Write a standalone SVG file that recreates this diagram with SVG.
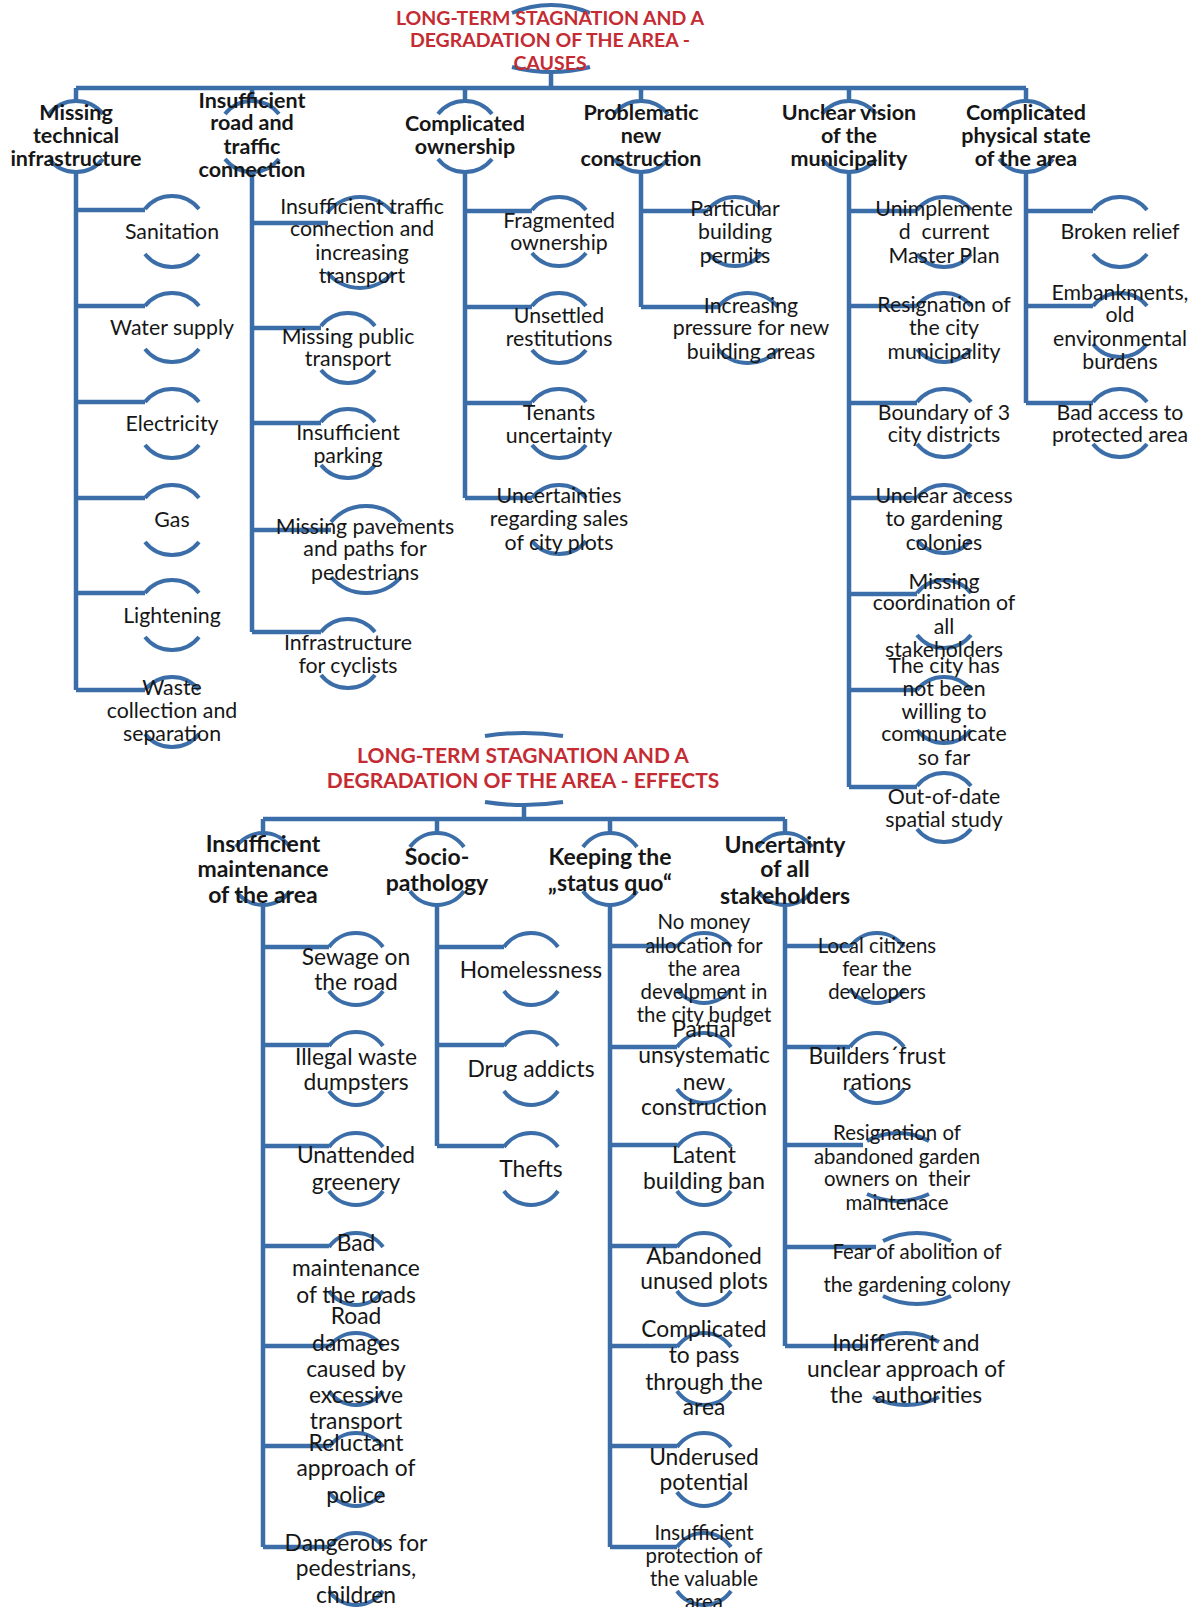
<svg xmlns="http://www.w3.org/2000/svg" width="1197" height="1607" viewBox="0 0 1197 1607">
<style>
.ln{stroke:#3b6ea8;stroke-width:4.5;fill:none}
.a{stroke:#3b6ea8;stroke-width:4;fill:none}
text{font-family:Lato,"Liberation Sans",sans-serif;fill:#161616;text-anchor:middle}
.ti{font-weight:bold;fill:#c42b32;font-size:19.5px}
.ti2{font-weight:bold;fill:#c42b32;font-size:21px}
.h{font-weight:bold;font-size:21.5px}
.eh{font-weight:bold;font-size:23px}
.c{font-size:21.3px}
.e{font-size:22.8px}
.s{font-size:20.4px}
.s19{font-size:20.4px}
</style>
<rect width="1197" height="1607" fill="#ffffff"/>

<g id="connectors">
<path class="ln" d="M551,72V88M76,88H1026M76,88V101M252,88V101M465,88V101M641,88V101M849,88V101M1026,88V101"/>
<path class="ln" d="M76,172V690M76,210H145M76,306H145M76,402H145M76,498H145M76,593H145M76,690H145"/>
<path class="ln" d="M252,172V632M252,223H328M252,328H321M252,423H321M252,530H331M252,632H321"/>
<path class="ln" d="M465,172V498M465,211H532M465,307H532M465,403H532M465,498H532"/>
<path class="ln" d="M641,172V307M641,211H708M641,307H720"/>
<path class="ln" d="M849,172V787M849,211H917M849,306H917M849,403H917M849,498H917M849,594H917M849,690H917M849,787H917"/>
<path class="ln" d="M1026,172V403M1026,211H1093M1026,306H1093M1026,403H1093"/>
<path class="ln" d="M524,805V819M263,819H785M263,819V833M437,819V833M610,819V833M785,819V833"/>
<path class="ln" d="M263,905V1547M263,947H329M263,1045H329M263,1146H329M263,1246H329M263,1346H329M263,1446H329M263,1547H329"/>
<path class="ln" d="M437,905V1146M437,947H504M437,1045H504M437,1146H504"/>
<path class="ln" d="M610,905V1547M610,946H677M610,1047H677M610,1145H677M610,1246H677M610,1346H677M610,1446H677M610,1547H677"/>
<path class="ln" d="M785,905V1346M785,946H850M785,1047H850M785,1145H863M785,1247H876M785,1346H868"/>
</g>

<g id="n-causes">
<path class="a" d="M512,13A99,99 0 0 1 590,13M512,67A154.6,154.6 0 0 0 590,67"/>
<text class="ti"><tspan x="550" y="25">LONG-TERM STAGNATION AND A</tspan><tspan x="550" y="47">DEGRADATION OF THE AREA -</tspan><tspan x="550" y="70">CAUSES</tspan></text>
</g>

<g id="n-missing-tech">
<path class="a" d="M49,114A34.5,34.5 0 0 1 103,114M49,159A34.5,34.5 0 0 0 103,159"/>
<text class="h"><tspan x="76" y="120">Missing</tspan><tspan x="76" y="143">technical</tspan><tspan x="76" y="166">infrastructure</tspan></text>
</g>
<g id="n-road-traffic">
<path class="a" d="M225,114A34.5,34.5 0 0 1 279,114M225,159A34.5,34.5 0 0 0 279,159"/>
<text class="h"><tspan x="252" y="108">Insufficient</tspan><tspan x="252" y="130">road and</tspan><tspan x="252" y="154">traffic</tspan><tspan x="252" y="177">connection</tspan></text>
</g>
<g id="n-ownership">
<path class="a" d="M438,114A34.5,34.5 0 0 1 492,114M438,159A34.5,34.5 0 0 0 492,159"/>
<text class="h"><tspan x="465" y="131">Complicated</tspan><tspan x="465" y="154">ownership</tspan></text>
</g>
<g id="n-new-construction">
<path class="a" d="M614,114A34.5,34.5 0 0 1 668,114M614,159A34.5,34.5 0 0 0 668,159"/>
<text class="h"><tspan x="641" y="120">Problematic</tspan><tspan x="641" y="143">new</tspan><tspan x="641" y="166">construction</tspan></text>
</g>
<g id="n-vision">
<path class="a" d="M822,114A34.5,34.5 0 0 1 876,114M822,159A34.5,34.5 0 0 0 876,159"/>
<text class="h"><tspan x="849" y="120">Unclear vision</tspan><tspan x="849" y="143">of the</tspan><tspan x="849" y="166">municipality</tspan></text>
</g>
<g id="n-physical">
<path class="a" d="M999,114A34.5,34.5 0 0 1 1053,114M999,159A34.5,34.5 0 0 0 1053,159"/>
<text class="h"><tspan x="1026" y="120">Complicated</tspan><tspan x="1026" y="143">physical state</tspan><tspan x="1026" y="166">of the area</tspan></text>
</g>

<g id="n-sanitation">
<path class="a" d="M145,209A34.5,34.5 0 0 1 199,209M145,254A34.5,34.5 0 0 0 199,254"/>
<text class="c"><tspan x="172" y="239">Sanitation</tspan></text>
</g>
<g id="n-water">
<path class="a" d="M145,306A34.5,34.5 0 0 1 199,306M145,349A34.5,34.5 0 0 0 199,349"/>
<text class="c"><tspan x="172" y="335">Water supply</tspan></text>
</g>
<g id="n-electricity">
<path class="a" d="M145,402A34.5,34.5 0 0 1 199,402M145,445A34.5,34.5 0 0 0 199,445"/>
<text class="c"><tspan x="172" y="431">Electricity</tspan></text>
</g>
<g id="n-gas">
<path class="a" d="M145,498A34.5,34.5 0 0 1 199,498M145,542A34.5,34.5 0 0 0 199,542"/>
<text class="c"><tspan x="172" y="527">Gas</tspan></text>
</g>
<g id="n-lightening">
<path class="a" d="M145,593A34.5,34.5 0 0 1 199,593M145,637A34.5,34.5 0 0 0 199,637"/>
<text class="c"><tspan x="172" y="623">Lightening</tspan></text>
</g>
<g id="n-waste">
<path class="a" d="M145,690A34.5,34.5 0 0 1 199,690M145,734A34.5,34.5 0 0 0 199,734"/>
<text class="c"><tspan x="172" y="695">Waste</tspan><tspan x="172" y="718">collection and</tspan><tspan x="172" y="741">separation</tspan></text>
</g>

<g id="n-traffic-connection">
<path class="a" d="M327,213A42,42 0 0 1 393,213M327,272A42,42 0 0 0 393,272"/>
<text class="c"><tspan x="362" y="214">Insufficient traffic</tspan><tspan x="362" y="236">connection and</tspan><tspan x="362" y="260">increasing</tspan><tspan x="362" y="283">transport</tspan></text>
</g>
<g id="n-public-transport">
<path class="a" d="M321,326A34.5,34.5 0 0 1 375,326M321,370A34.5,34.5 0 0 0 375,370"/>
<text class="c"><tspan x="348" y="344">Missing public</tspan><tspan x="348" y="366">transport</tspan></text>
</g>
<g id="n-parking">
<path class="a" d="M321,422A34.5,34.5 0 0 1 375,422M321,465A34.5,34.5 0 0 0 375,465"/>
<text class="c"><tspan x="348" y="440">Insufficient</tspan><tspan x="348" y="463">parking</tspan></text>
</g>
<g id="n-pavements">
<path class="a" d="M331,522A46.3,46.3 0 0 1 401,522M331,577A46.3,46.3 0 0 0 401,577"/>
<text class="c"><tspan x="365" y="534">Missing pavements</tspan><tspan x="365" y="556">and paths for</tspan><tspan x="365" y="580">pedestrians</tspan></text>
</g>
<g id="n-cyclists">
<path class="a" d="M321,632A34.5,34.5 0 0 1 375,632M321,675A34.5,34.5 0 0 0 375,675"/>
<text class="c"><tspan x="348" y="650">Infrastructure</tspan><tspan x="348" y="673">for cyclists</tspan></text>
</g>

<g id="n-fragmented">
<path class="a" d="M532,210A34.5,34.5 0 0 1 586,210M532,253A34.5,34.5 0 0 0 586,253"/>
<text class="c"><tspan x="559" y="228">Fragmented</tspan><tspan x="559" y="250">ownership</tspan></text>
</g>
<g id="n-restitutions">
<path class="a" d="M532,306A34.5,34.5 0 0 1 586,306M532,350A34.5,34.5 0 0 0 586,350"/>
<text class="c"><tspan x="559" y="323">Unsettled</tspan><tspan x="559" y="346">restitutions</tspan></text>
</g>
<g id="n-tenants">
<path class="a" d="M532,402A34.5,34.5 0 0 1 586,402M532,445A34.5,34.5 0 0 0 586,445"/>
<text class="c"><tspan x="559" y="420">Tenants</tspan><tspan x="559" y="443">uncertainty</tspan></text>
</g>
<g id="n-sales">
<path class="a" d="M532,498A34.5,34.5 0 0 1 586,498M532,541A34.5,34.5 0 0 0 586,541"/>
<text class="c"><tspan x="559" y="503">Uncertainties</tspan><tspan x="559" y="526">regarding sales</tspan><tspan x="559" y="550">of city plots</tspan></text>
</g>

<g id="n-permits">
<path class="a" d="M708,210A34.5,34.5 0 0 1 762,210M708,253A34.5,34.5 0 0 0 762,253"/>
<text class="c"><tspan x="735" y="216">Particular</tspan><tspan x="735" y="239">building</tspan><tspan x="735" y="263">permits</tspan></text>
</g>
<g id="n-pressure">
<path class="a" d="M718,307A39.1,39.1 0 0 1 778,307M718,349A39.1,39.1 0 0 0 778,349"/>
<text class="c"><tspan x="751" y="313">Increasing</tspan><tspan x="751" y="335">pressure for new</tspan><tspan x="751" y="359">building areas</tspan></text>
</g>

<g id="n-master-plan">
<path class="a" d="M917,210A34.5,34.5 0 0 1 971,210M917,254A34.5,34.5 0 0 0 971,254"/>
<text class="c" xml:space="preserve"><tspan x="944" y="216">Unimplemente</tspan><tspan x="944" y="239">d  current</tspan><tspan x="944" y="263">Master Plan</tspan></text>
</g>
<g id="n-resignation-city">
<path class="a" d="M917,306A34.5,34.5 0 0 1 971,306M917,349A34.5,34.5 0 0 0 971,349"/>
<text class="c"><tspan x="944" y="312">Resignation of</tspan><tspan x="944" y="335">the city</tspan><tspan x="944" y="359">municipality</tspan></text>
</g>
<g id="n-boundary">
<path class="a" d="M917,402A34.5,34.5 0 0 1 971,402M917,444A34.5,34.5 0 0 0 971,444"/>
<text class="c"><tspan x="944" y="420">Boundary of 3</tspan><tspan x="944" y="442">city districts</tspan></text>
</g>
<g id="n-gardening-access">
<path class="a" d="M917,498A34.5,34.5 0 0 1 971,498M917,540A34.5,34.5 0 0 0 971,540"/>
<text class="c"><tspan x="944" y="503">Unclear access</tspan><tspan x="944" y="526">to gardening</tspan><tspan x="944" y="550">colonies</tspan></text>
</g>
<g id="n-coordination">
<path class="a" d="M917,593A34.5,34.5 0 0 1 971,593M917,635A34.5,34.5 0 0 0 971,635"/>
<text class="c"><tspan x="944" y="589">Missing</tspan><tspan x="944" y="610">coordination of</tspan><tspan x="944" y="634">all</tspan><tspan x="944" y="657">stakeholders</tspan></text>
</g>
<g id="n-communicate">
<path class="a" d="M917,690A34.5,34.5 0 0 1 971,690M917,730A34.5,34.5 0 0 0 971,730"/>
<text class="c"><tspan x="944" y="673">The city has</tspan><tspan x="944" y="696">not been</tspan><tspan x="944" y="719">willing to</tspan><tspan x="944" y="741">communicate</tspan><tspan x="944" y="765">so far</tspan></text>
</g>
<g id="n-spatial-study">
<path class="a" d="M917,786A34.5,34.5 0 0 1 971,786M917,829A34.5,34.5 0 0 0 971,829"/>
<text class="c"><tspan x="944" y="804">Out-of-date</tspan><tspan x="944" y="827">spatial study</tspan></text>
</g>

<g id="n-broken-relief">
<path class="a" d="M1093,210A34.5,34.5 0 0 1 1147,210M1093,254A34.5,34.5 0 0 0 1147,254"/>
<text class="c"><tspan x="1120" y="239">Broken relief</tspan></text>
</g>
<g id="n-embankments">
<path class="a" d="M1093,306A34.5,34.5 0 0 1 1147,306M1093,344A34.5,34.5 0 0 0 1147,344"/>
<text class="c"><tspan x="1120" y="300">Embankments,</tspan><tspan x="1120" y="322">old</tspan><tspan x="1120" y="346">environmental</tspan><tspan x="1120" y="369">burdens</tspan></text>
</g>
<g id="n-protected-area">
<path class="a" d="M1093,402A34.5,34.5 0 0 1 1147,402M1093,444A34.5,34.5 0 0 0 1147,444"/>
<text class="c"><tspan x="1120" y="420">Bad access to</tspan><tspan x="1120" y="442">protected area</tspan></text>
</g>

<g id="n-effects">
<path class="a" d="M485,736A255,255 0 0 1 563,736M485,802A255,255 0 0 0 563,802"/>
<text class="ti2"><tspan x="523" y="762.5">LONG-TERM STAGNATION AND A</tspan><tspan x="523" y="787.5">DEGRADATION OF THE AREA - EFFECTS</tspan></text>
</g>

<g id="n-maintenance">
<path class="a" d="M236,847A33,33 0 0 1 290,847M236,891A33,33 0 0 0 290,891"/>
<text class="eh"><tspan x="263" y="852">Insufficient</tspan><tspan x="263" y="877">maintenance</tspan><tspan x="263" y="903">of the area</tspan></text>
</g>
<g id="n-sociopathology">
<path class="a" d="M410,847A33,33 0 0 1 464,847M410,891A33,33 0 0 0 464,891"/>
<text class="eh"><tspan x="437" y="865">Socio-</tspan><tspan x="437" y="891">pathology</tspan></text>
</g>
<g id="n-status-quo">
<path class="a" d="M583,847A33,33 0 0 1 637,847M583,891A33,33 0 0 0 637,891"/>
<text class="eh"><tspan x="610" y="865">Keeping the</tspan><tspan x="610" y="891">„status quo“</tspan></text>
</g>
<g id="n-uncertainty">
<path class="a" d="M758,847A33,33 0 0 1 812,847M758,891A33,33 0 0 0 812,891"/>
<text class="eh"><tspan x="785" y="853">Uncertainty</tspan><tspan x="785" y="877">of all</tspan><tspan x="785" y="904">stakeholders</tspan></text>
</g>

<g id="n-sewage">
<path class="a" d="M329,947A33,33 0 0 1 383,947M329,991A33,33 0 0 0 383,991"/>
<text class="e"><tspan x="356" y="965">Sewage on</tspan><tspan x="356" y="990">the road</tspan></text>
</g>
<g id="n-illegal-waste">
<path class="a" d="M329,1046A33,33 0 0 1 383,1046M329,1091A33,33 0 0 0 383,1091"/>
<text class="e"><tspan x="356" y="1065">Illegal waste</tspan><tspan x="356" y="1090">dumpsters</tspan></text>
</g>
<g id="n-greenery">
<path class="a" d="M329,1147A33,33 0 0 1 383,1147M329,1191A33,33 0 0 0 383,1191"/>
<text class="e"><tspan x="356" y="1163">Unattended</tspan><tspan x="356" y="1190">greenery</tspan></text>
</g>
<g id="n-roads">
<path class="a" d="M329,1247A33,33 0 0 1 383,1247M329,1291A33,33 0 0 0 383,1291"/>
<text class="e"><tspan x="356" y="1251">Bad</tspan><tspan x="356" y="1276">maintenance</tspan><tspan x="356" y="1303">of the roads</tspan></text>
</g>
<g id="n-road-damages">
<path class="a" d="M329,1347A33,33 0 0 1 383,1347M329,1391A33,33 0 0 0 383,1391"/>
<text class="e"><tspan x="356" y="1324">Road</tspan><tspan x="356" y="1351">damages</tspan><tspan x="356" y="1377">caused by</tspan><tspan x="356" y="1403">excessive</tspan><tspan x="356" y="1429">transport</tspan></text>
</g>
<g id="n-police">
<path class="a" d="M329,1447A33,33 0 0 1 383,1447M329,1492A33,33 0 0 0 383,1492"/>
<text class="e"><tspan x="356" y="1451">Reluctant</tspan><tspan x="356" y="1476">approach of</tspan><tspan x="356" y="1503">police</tspan></text>
</g>
<g id="n-dangerous">
<path class="a" d="M329,1547A33,33 0 0 1 383,1547M329,1591A33,33 0 0 0 383,1591"/>
<text class="e"><tspan x="356" y="1551">Dangerous for</tspan><tspan x="356" y="1576">pedestrians,</tspan><tspan x="356" y="1603">children</tspan></text>
</g>

<g id="n-homelessness">
<path class="a" d="M504,947A33,33 0 0 1 558,947M504,991A33,33 0 0 0 558,991"/>
<text class="e"><tspan x="531" y="978">Homelessness</tspan></text>
</g>
<g id="n-drug-addicts">
<path class="a" d="M504,1046A33,33 0 0 1 558,1046M504,1091A33,33 0 0 0 558,1091"/>
<text class="e"><tspan x="531" y="1077">Drug addicts</tspan></text>
</g>
<g id="n-thefts">
<path class="a" d="M504,1147A33,33 0 0 1 558,1147M504,1191A33,33 0 0 0 558,1191"/>
<text class="e"><tspan x="531" y="1177">Thefts</tspan></text>
</g>

<g id="n-no-money">
<path class="a" d="M677,947A33,33 0 0 1 731,947M677,989A33,33 0 0 0 731,989"/>
<text class="s"><tspan x="704" y="929">No money</tspan><tspan x="704" y="953">allocation for</tspan><tspan x="704" y="976">the area</tspan><tspan x="704" y="999">develpment in</tspan><tspan x="704" y="1022">the city budget</tspan></text>
</g>
<g id="n-partial">
<path class="a" d="M677,1047A33,33 0 0 1 731,1047M677,1089A33,33 0 0 0 731,1089"/>
<text class="e"><tspan x="704" y="1037">Partial</tspan><tspan x="704" y="1063">unsystematic</tspan><tspan x="704" y="1090">new</tspan><tspan x="704" y="1115">construction</tspan></text>
</g>
<g id="n-building-ban">
<path class="a" d="M677,1147A33,33 0 0 1 731,1147M677,1191A33,33 0 0 0 731,1191"/>
<text class="e"><tspan x="704" y="1163">Latent</tspan><tspan x="704" y="1189">building ban</tspan></text>
</g>
<g id="n-unused-plots">
<path class="a" d="M677,1247A33,33 0 0 1 731,1247M677,1291A33,33 0 0 0 731,1291"/>
<text class="e"><tspan x="704" y="1264">Abandoned</tspan><tspan x="704" y="1289">unused plots</tspan></text>
</g>
<g id="n-pass-through">
<path class="a" d="M677,1347A33,33 0 0 1 731,1347M677,1391A33,33 0 0 0 731,1391"/>
<text class="e"><tspan x="704" y="1337">Complicated</tspan><tspan x="704" y="1363">to pass</tspan><tspan x="704" y="1390">through the</tspan><tspan x="704" y="1415">area</tspan></text>
</g>
<g id="n-underused">
<path class="a" d="M677,1447A33,33 0 0 1 731,1447M677,1492A33,33 0 0 0 731,1492"/>
<text class="e"><tspan x="704" y="1465">Underused</tspan><tspan x="704" y="1490">potential</tspan></text>
</g>
<g id="n-protection">
<path class="a" d="M677,1547A33,33 0 0 1 731,1547M677,1591A33,33 0 0 0 731,1591"/>
<text class="s"><tspan x="704" y="1540">Insufficient</tspan><tspan x="704" y="1563">protection of</tspan><tspan x="704" y="1586">the valuable</tspan><tspan x="704" y="1609">area</tspan></text>
</g>

<g id="n-citizens">
<path class="a" d="M850,947A33,33 0 0 1 904,947M850,989A33,33 0 0 0 904,989"/>
<text class="s"><tspan x="877" y="953">Local citizens</tspan><tspan x="877" y="976">fear the</tspan><tspan x="877" y="999">developers</tspan></text>
</g>
<g id="n-builders">
<path class="a" d="M850,1047A33,33 0 0 1 904,1047M850,1089A33,33 0 0 0 904,1089"/>
<text class="e"><tspan x="877" y="1064">Builders´frust</tspan><tspan x="877" y="1090">rations</tspan></text>
</g>
<g id="n-garden-owners">
<path class="a" d="M867,1141A64,64 0 0 1 929,1141M867,1194A72,72 0 0 0 929,1194"/>
<text class="s19" xml:space="preserve"><tspan x="897" y="1140">Resignation of</tspan><tspan x="897" y="1164">abandoned garden</tspan><tspan x="897" y="1186">owners on  their</tspan><tspan x="897" y="1210">maintenace</tspan></text>
</g>
<g id="n-abolition">
<path class="a" d="M883,1241A76,76 0 0 1 951,1241M883,1296A76,76 0 0 0 951,1296"/>
<text class="s"><tspan x="917" y="1259">Fear of abolition of</tspan><tspan x="917" y="1292">the gardening colony</tspan></text>
</g>
<g id="n-authorities">
<path class="a" d="M873,1342A65,65 0 0 1 939,1342M873,1397A72,72 0 0 0 939,1397"/>
<text class="e" xml:space="preserve"><tspan x="906" y="1351">Indifferent and</tspan><tspan x="906" y="1377">unclear approach of</tspan><tspan x="906" y="1403">the  authorities</tspan></text>
</g>
</svg>
